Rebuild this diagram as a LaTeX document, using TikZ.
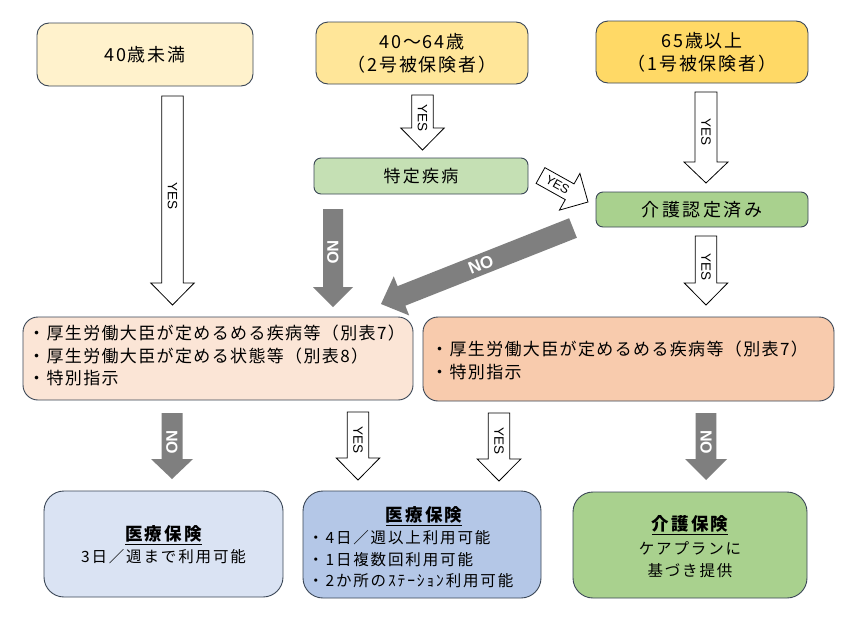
\documentclass[tikz,border=0pt]{standalone}
\usepackage{fontspec}
\setmainfont{Noto Sans CJK JP}
\newfontfamily\latinsans{Liberation Sans}
\usetikzlibrary{calc}
\definecolor{fillA}{HTML}{FFF2CC}
\definecolor{fillB}{HTML}{FFE699}
\definecolor{fillC}{HTML}{FFD966}
\definecolor{fillD}{HTML}{C5E0B4}
\definecolor{fillE}{HTML}{A9D18E}
\definecolor{fillF}{HTML}{FBE5D6}
\definecolor{fillG}{HTML}{F8CBAD}
\definecolor{fillH}{HTML}{DAE3F3}
\definecolor{fillI}{HTML}{B4C7E7}
\definecolor{fillJ}{HTML}{A9D18E}
\definecolor{boxline}{HTML}{3A4656}
\definecolor{arrowgrey}{HTML}{7F7F7F}
\newcommand\jpf[3]{\fontsize{#1}{#2}\selectfont\addfontfeatures{LetterSpace=#3}}
\newcommand\blockarrow[6]{%
  \coordinate (ba-h) at ($(#3)!#6!(#2)$);
  \path[#1] ($(#2)!#4!90:(#3)$) -- ($(ba-h)!#4!90:(#3)$) -- ($(ba-h)!#5!90:(#3)$) -- (#3)
    -- ($(ba-h)!#5!-90:(#3)$) -- ($(ba-h)!#4!-90:(#3)$) -- ($(#2)!#4!-90:(#3)$) -- cycle;
}
\tikzset{
  box/.style={draw=boxline, line width=0.9pt, align=center, inner sep=0pt},
  yeslbl/.style={font=\latinsans\fontsize{13.5}{13.5}\selectfont, inner sep=0pt, text=black},
  nolbl/.style={font=\latinsans\bfseries\fontsize{16}{16}\selectfont, inner sep=0pt, text=white},
  whitearrow/.style={draw=black, line width=0.8pt, fill=white, line join=miter},
  greyarrow/.style={fill=arrowgrey},
  toptext/.style={font=\jpf{18}{23}{10}},
  listtext/.style={font=\jpf{17}{22.5}{8}, align=left, inner sep=0pt, anchor=west},
  bottext/.style={font=\jpf{15.5}{22}{12}},
  bottitle/.style={font=\bfseries\jpf{17.5}{22}{12}},
}
\begin{document}
\begin{tikzpicture}[x=1pt, y=-1pt]
\useasboundingbox (0,0) rectangle (850,616);
\fill[white] (0,0) rectangle (850,616);

% top boxes
\node[box, fill=fillA, rounded corners=12pt, minimum width=216pt, minimum height=63pt, toptext] (A) at (145,54.5) {40歳未満};
\node[box, fill=fillB, rounded corners=12pt, minimum width=212pt, minimum height=62pt, toptext] (B) at (422,53) {40〜64歳\\（2号被保険者）};
\node[box, fill=fillC, rounded corners=12pt, minimum width=212pt, minimum height=62pt, toptext] (C) at (702,52) {65歳以上\\（1号被保険者）};

% middle boxes
\node[box, fill=fillD, rounded corners=7pt, minimum width=214pt, minimum height=36pt, font=\jpf{17}{20}{13}] (D) at (421,176) {特定疾病};
\node[box, fill=fillE, rounded corners=7pt, minimum width=212pt, minimum height=35pt, font=\jpf{18}{20}{14}] (E) at (702,209.5) {介護認定済み};

% condition boxes
\node[box, fill=fillF, rounded corners=15pt, minimum width=390pt, minimum height=83pt] (F) at (218,358.5) {};
\node[listtext] (Ftext) at (28,355.5) {・厚生労働大臣が定めるめる疾病等（別表7）\\・厚生労働大臣が定める状態等（別表8）\\・特別指示};
\node[box, fill=fillG, rounded corners=15pt, minimum width=411pt, minimum height=84pt] (G) at (628.5,359) {};
\node[listtext] (Gtext) at (431,360.5) {・厚生労働大臣が定めるめる疾病等（別表7）\\・特別指示};

% result boxes
\node[box, fill=fillH, rounded corners=20pt, minimum width=239pt, minimum height=106pt] (H) at (163.5,544) {};
\node[bottitle, inner sep=0pt] (Htitle) at (163.5,535) {\underline{医療保険}};
\node[bottext, inner sep=0pt] (Htext) at (163.5,557) {3日／週まで利用可能};

\node[box, fill=fillI, rounded corners=20pt, minimum width=238pt, minimum height=107pt] (I) at (422,544.5) {};
\node[bottitle, inner sep=0pt] (Ititle) at (424,516) {\underline{医療保険}};
\node[align=left, anchor=west, inner sep=0pt, font=\jpf{15.5}{21.5}{12}] (Itext) at (308,559.5) {・4日／週以上利用可能\\・1日複数回利用可能\\・2か所のｽﾃｰｼｮﾝ利用可能};

\node[box, fill=fillJ, rounded corners=20pt, minimum width=234pt, minimum height=106pt] (J) at (690,545) {};
\node[bottitle, inner sep=0pt] (Jtitle) at (690,525) {\underline{介護保険}};
\node[bottext, align=center, inner sep=0pt] (Jtext) at (690,560) {ケアプランに\\基づき提供};

% arrow end points
\coordinate (s1) at (172.5,96);  \coordinate (t1) at (172.5,305);
\coordinate (s2) at (422.5,95);  \coordinate (t2) at (422.5,150);
\coordinate (s3) at (706,92);    \coordinate (t3) at (706,183);
\coordinate (s4) at (540.5,175.5); \coordinate (t4) at (588,202);
\coordinate (s5) at (333,209);   \coordinate (t5) at (333,307);
\coordinate (s6) at (573,228);   \coordinate (t6) at (381,304);
\coordinate (s7) at (706,236);   \coordinate (t7) at (706,305);
\coordinate (s8) at (172,413);   \coordinate (t8) at (172,479);
\coordinate (s9) at (358,412);   \coordinate (t9) at (358,480);
\coordinate (s10) at (499,413);  \coordinate (t10) at (499,481);
\coordinate (s11) at (706,413);  \coordinate (t11) at (706,480);

\blockarrow{whitearrow}{s1}{t1}{10.8pt}{21.7pt}{22pt}
\blockarrow{whitearrow}{s2}{t2}{10.8pt}{21.7pt}{22pt}
\blockarrow{whitearrow}{s3}{t3}{11pt}{22pt}{21pt}
\blockarrow{whitearrow}{s4}{t4}{9pt}{21pt}{21pt}
\blockarrow{greyarrow}{s5}{t5}{10pt}{20pt}{20pt}
\blockarrow{greyarrow}{s6}{t6}{10.5pt}{21pt}{22pt}
\blockarrow{whitearrow}{s7}{t7}{10.8pt}{21.7pt}{22pt}
\blockarrow{greyarrow}{s8}{t8}{10.5pt}{21pt}{20pt}
\blockarrow{whitearrow}{s9}{t9}{10.7pt}{21.7pt}{22pt}
\blockarrow{whitearrow}{s10}{t10}{10.8pt}{21.8pt}{22pt}
\blockarrow{greyarrow}{s11}{t11}{10.3pt}{21pt}{21pt}

% labels
\node[yeslbl, rotate=-90] (L1) at (172.5,196) {YES};
\node[yeslbl, rotate=-90] (L2) at (422.5,118) {YES};
\node[yeslbl, rotate=-90] (L3) at (706,132) {YES};
\path (s4) -- (t4) node[yeslbl, sloped, pos=0.36, font=\latinsans\fontsize{12.5}{12.5}\selectfont] (L4) {YES};
\node[nolbl, rotate=-90] (L5) at (333,252) {NO};
\path (s6) -- (t6) node[nolbl, sloped, pos=0.48, font=\latinsans\bfseries\fontsize{17}{17}\selectfont] (L6) {NO};
\node[yeslbl, rotate=-90] (L7) at (706,267) {YES};
\node[nolbl, rotate=-90] (L8) at (172,442) {NO};
\node[yeslbl, rotate=-90] (L9) at (358,440) {YES};
\node[yeslbl, rotate=-90] (L10) at (499,441) {YES};
\node[nolbl, rotate=-90] (L11) at (706,442) {NO};
\end{tikzpicture}
\end{document}
